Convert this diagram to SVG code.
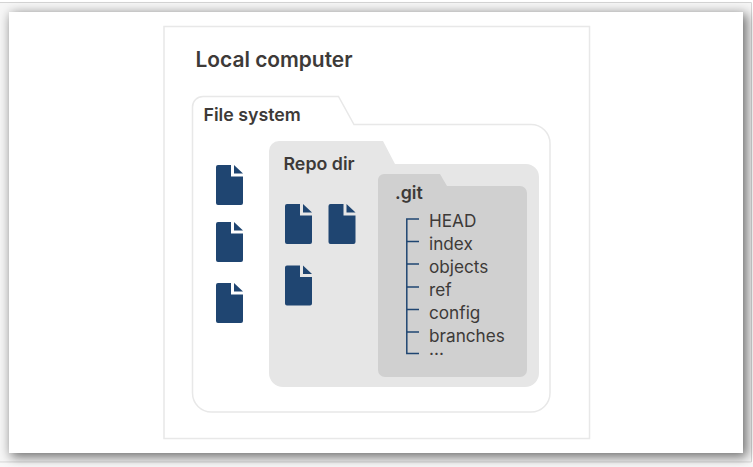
<svg xmlns="http://www.w3.org/2000/svg" width="753" height="467" viewBox="0 0 753 467">
<style>
text{font-family:Inter,"Liberation Sans",sans-serif;fill:#3d3a38}
.b{font-weight:600}
.t{font-size:17.800px}
.i{font-size:17.200px}
.tree{stroke:#1f4571;stroke-width:1.5;fill:none}
</style>
<defs>
<filter id="sh" x="-5%" y="-8%" width="110%" height="116%"><feGaussianBlur stdDeviation="6"/></filter>
<g id="doc"><path d="M2 0H15V11.500H27V38a2 2 0 0 1-2 2H2a2 2 0 0 1-2-2V2a2 2 0 0 1 2-2Z" fill="#1f4571"/><path d="M18 0L27 8.500H18Z" fill="#1f4571"/></g>
</defs>
<rect width="753" height="467" fill="#fff"/>
<path d="M0 2.500H751.500V462H0" fill="#f6f6f6" stroke="#d4d4d4"/>
<rect x="0" y="463" width="753" height="4" fill="#f8f8f8"/>
<rect x="11" y="14" width="736" height="443" fill="#000" opacity="0.55" filter="url(#sh)"/>
<rect x="9" y="12" width="734" height="441" fill="#fff"/>
<g id="local-computer">
<rect x="164" y="26.500" width="425.500" height="412" fill="#fff" stroke="#e8e8e8" stroke-width="1.500"/>
<text class="b" x="195.500" y="66.500" font-size="20.900">Local computer</text>
</g>
<g id="file-system">
<path d="M203 96.500H338.500L354 124.500H531a19 19 0 0 1 19 19V393a19 19 0 0 1-19 19H211.500a19 19 0 0 1-19-19V107a10.500 10.500 0 0 1 10.500-10.500Z" fill="#fff" stroke="#e8e8e8" stroke-width="1.500"/>
<text class="b t" x="203.500" y="120.500">File system</text>
</g>
<g id="file-1"><use href="#doc" x="216" y="165"/></g>
<g id="file-2"><use href="#doc" x="216" y="222"/></g>
<g id="file-3"><use href="#doc" x="216" y="283"/></g>
<g id="repo-dir">
<path d="M279 141H383L395 164H526a13 13 0 0 1 13 13V373a14 14 0 0 1-14 14H283a14 14 0 0 1-14-14V151a10 10 0 0 1 10-10Z" fill="#e6e6e6"/>
<text class="b t" x="283.500" y="170">Repo dir</text>
</g>
<g id="file-4"><use href="#doc" x="285" y="204"/></g>
<g id="file-5"><use href="#doc" x="328.500" y="204"/></g>
<g id="file-6"><use href="#doc" x="285" y="265.500"/></g>
<g id="git-dir">
<path d="M384 174H440L447 186H520a7 7 0 0 1 7 7V370a7 7 0 0 1-7 7H385a7 7 0 0 1-7-7V180a6 6 0 0 1 6-6Z" fill="#d0d0d0"/>
<text class="b t" x="395" y="198.500">.git</text>
<text class="i" x="429" y="226.500">HEAD</text>
<text class="i" x="429" y="249.500">index</text>
<text class="i" x="429" y="272.500">objects</text>
<text class="i" x="429" y="295.500">ref</text>
<text class="i" x="429" y="318.500">config</text>
<text class="i" x="429" y="342">branches</text>
<text class="i" x="429" y="354.500">...</text>
</g>
<g id="connectors">
<path class="tree" d="M419 219H406.800V353.500H419M406.800 241.500H419M406.800 264H419M406.800 287H419M406.800 309.500H419M406.800 332H419"/>
</g>
</svg>
